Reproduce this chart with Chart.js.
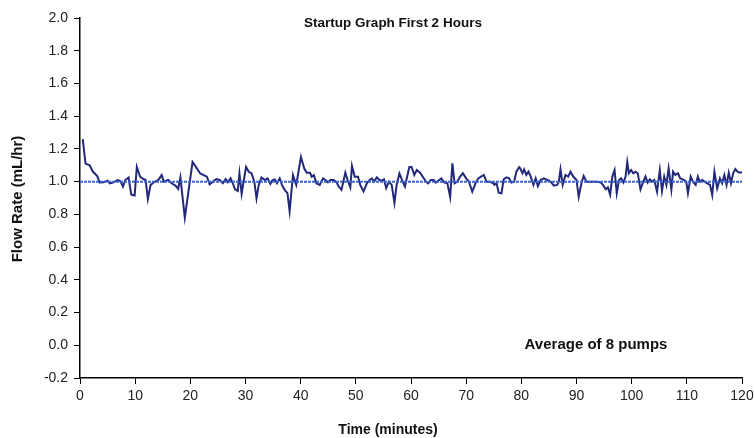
<!DOCTYPE html>
<html>
<head>
<meta charset="utf-8">
<script src="https://cdn.jsdelivr.net/npm/chart.js@4.4.0/dist/chart.umd.min.js"></script>
<style>
  body { margin: 0; background: #fff; }
  #wrap { width: 754px; height: 438px; position: relative; }
</style>
</head>
<body>
<div id="wrap"><canvas id="flowChart"></canvas></div>
<script>
// time in minutes, flow in mL/hr (average of 8 pumps)
const minutes = [
  0.5, 1.0, 1.75, 2.35, 3.1, 3.55, 4.3, 5.0, 5.4, 6.1, 6.8, 7.3, 7.8, 8.2, 8.8, 9.3, 9.9,
  10.3, 10.9, 11.5, 11.9, 12.3, 12.8, 13.4, 14.2, 14.8, 15.2, 16.0, 16.6, 17.3, 17.8, 18.2, 19.0,
  20.4, 21.0, 21.8, 22.6, 23.0, 23.5, 24.1, 24.7, 25.3, 25.9, 26.4, 26.8, 27.3, 27.7, 28.1, 28.6,
  28.9, 29.3, 29.7, 30.1, 30.6, 31.1, 31.6, 32.0, 32.4, 32.9, 33.5, 34.0, 34.5, 34.9, 35.3, 35.7,
  36.2, 36.6, 37.1, 37.6, 38.0, 38.6, 39.2, 40.05, 40.65, 41.1, 41.7, 42.0, 42.4, 42.85, 43.45,
  44.05, 44.5, 44.95, 45.4, 46.0, 46.5, 46.9, 47.4, 48.1, 48.5, 49.0, 49.3, 49.8, 50.4, 50.8,
  51.4, 52.0, 52.5, 52.9, 53.3, 53.8, 54.3, 54.7, 55.1, 55.5, 56.0, 56.5, 57.0, 57.4, 57.9,
  58.5, 58.9, 59.7, 60.1, 60.6, 61.05, 61.65, 62.1, 62.7, 63.1, 63.6, 64.1, 64.5, 65.1, 65.5,
  66.0, 66.6, 67.1, 67.5, 67.9, 68.4, 68.9, 69.4, 70.0, 70.5, 71.1, 71.7, 72.2, 72.7, 73.2,
  73.7, 74.3, 74.9, 75.1, 75.5, 75.9, 76.4, 76.8, 77.3, 77.8, 78.2, 78.7, 79.1, 79.6, 79.8,
  80.2, 80.5, 80.9, 81.3, 81.7, 82.2, 82.6, 83.0, 83.5, 84.1, 84.7, 85.3, 85.9, 86.5, 86.8,
  87.1, 87.5, 88.0, 88.5, 88.9, 89.4, 90.0, 90.4, 90.9, 91.3, 91.8, 92.4, 93.0, 93.8, 94.4,
  94.8, 95.3, 95.7, 96.1, 96.5, 96.9, 97.3, 97.7, 98.1, 98.5, 98.9, 99.2, 99.5, 99.9, 100.3,
  100.7, 101.1, 101.6, 102.1, 102.5, 102.9, 103.3, 103.7, 104.1, 104.6, 105.1, 105.5, 105.9,
  106.3, 106.7, 107.2, 107.5, 107.9, 108.4, 108.8, 109.3, 109.9, 110.2, 110.7, 111.1, 111.6,
  112.0, 112.3, 112.8, 113.2, 113.7, 114.2, 114.6, 115.0, 115.5, 116.0, 116.4, 116.8, 117.2,
  117.6, 118.0, 118.4, 118.8, 119.2, 119.6, 120.0
];
const flowRate = [
  1.26, 1.11, 1.10, 1.06, 1.035, 0.995, 0.996, 1.006, 0.99, 0.996, 1.01, 1.004, 0.97, 1.01, 1.025, 0.92, 0.915,
  1.09, 1.03, 1.016, 1.01, 0.894, 0.98, 0.996, 1.01, 1.04, 1.0, 1.01, 0.99, 0.976, 0.955, 1.025, 0.78,
  1.12, 1.09, 1.05, 1.037, 1.03, 0.984, 1.0, 1.016, 1.01, 0.99, 1.016, 0.996, 1.02, 0.99, 0.953, 0.943,
  1.05, 0.925, 1.01, 1.09, 1.06, 1.05, 1.0, 0.898, 0.98, 1.026, 1.01, 1.02, 0.986, 1.01, 1.014, 0.99,
  1.02, 0.98, 0.95, 0.93, 0.82, 1.04, 0.98, 1.15, 1.08, 1.055, 1.055, 1.03, 1.04, 0.99, 0.98,
  1.02, 1.01, 0.996, 1.01, 1.01, 0.996, 0.97, 0.95, 1.055, 1.01, 0.965, 1.096, 1.03, 1.03, 0.98,
  0.94, 0.99, 1.01, 1.02, 1.0, 1.026, 1.01, 1.006, 1.014, 0.96, 1.0, 0.98, 0.87, 0.98, 1.05,
  1.0, 0.97, 1.09, 1.09, 1.041, 1.071, 1.055, 1.031, 1.0, 0.99, 1.01, 1.01, 0.994, 1.01, 1.02,
  0.996, 0.99, 0.905, 1.112, 0.99, 1.0, 1.031, 1.051, 1.02, 1.0, 0.939, 0.99, 1.02, 1.031, 1.041,
  1.0, 1.0, 0.99, 0.98, 0.99, 0.933, 0.929, 1.014, 1.026, 1.02, 0.994, 1.0, 1.061, 1.088, 1.081,
  1.051, 1.075, 1.041, 1.061, 1.031, 0.98, 1.02, 0.973, 1.01, 1.02, 1.01, 1.0, 0.976, 0.98, 1.0,
  1.075, 0.98, 1.041, 1.031, 1.061, 1.031, 1.01, 0.908, 0.99, 1.035, 1.0, 1.0, 1.0, 1.0, 0.994,
  0.98, 0.953, 0.965, 0.92, 1.031, 1.071, 0.929, 1.01, 1.02, 0.994, 1.031, 1.12, 1.051, 1.071, 1.051,
  1.061, 1.051, 0.953, 1.0, 1.031, 0.994, 1.014, 1.0, 1.01, 0.939, 1.071, 0.943, 1.031,
  0.98, 1.081, 0.951, 1.061, 1.041, 1.051, 1.02, 1.014, 1.0, 0.929, 1.031, 1.0, 0.98,
  1.031, 1.0, 1.01, 1.0, 0.99, 0.98, 0.918, 1.061, 0.959, 1.02, 0.99, 1.041, 0.98,
  1.055, 0.99, 1.051, 1.077, 1.061, 1.055, 1.057
];
// target flow reference line
const targetMinutes = [0, 120];
const targetFlow = [1.0, 1.0];

const chartTitle = "Startup Graph First 2 Hours";
const noteText = "Average of 8 pumps";
const xTitle = "Time (minutes)";
const yTitle = "Flow Rate (mL/hr)";

const FONT = "'Liberation Sans', Arial, sans-serif";
Chart.defaults.font.family = FONT;
Chart.defaults.color = "#222";

// titles and the note, drawn where the original had them
const notes = {
  id: "notes",
  afterDraw(chart) {
    const ctx = chart.ctx;
    ctx.save();
    ctx.fillStyle = "#111";
    ctx.textAlign = "center";
    ctx.textBaseline = "middle";
    ctx.font = "bold 13.5px " + FONT;
    ctx.fillText(chartTitle, 393, 23);
    ctx.font = "bold 15px " + FONT;
    ctx.fillText(noteText, 596, 345);
    ctx.font = "bold 14px " + FONT;
    ctx.fillText(xTitle, 388, 430);
    ctx.translate(18, 199);
    ctx.rotate(-Math.PI / 2);
    ctx.font = "bold 15px " + FONT;
    ctx.fillText(yTitle, 0, 0);
    ctx.restore();
  },
};

const lineData = minutes.map((m, i) => ({ x: m, y: flowRate[i] }));
const refData = targetMinutes.map((m, i) => ({ x: m, y: targetFlow[i] }));

new Chart(document.getElementById("flowChart"), {
  type: "line",
  data: {
    datasets: [
      {
        label: "Target",
        data: refData,
        borderColor: "#3f66cc",
        borderWidth: 2,
        borderDash: [3, 1],
        pointRadius: 0,
      },
      {
        label: "Flow",
        data: lineData,
        borderColor: "#22287a",
        borderWidth: 2,
        pointRadius: 0,
        tension: 0,
      },
    ],
  },
  options: {
    responsive: true,
    maintainAspectRatio: false,
    animation: false,
    layout: { padding: { left: 0, right: 12, top: 18, bottom: 0 } },
    plugins: { legend: { display: false }, tooltip: { enabled: false } },
    scales: {
      x: {
        type: "linear",
        min: 0,
        max: 120,
        ticks: { stepSize: 10, font: { size: 14 }, padding: 4, maxRotation: 0 },
        grid: { drawOnChartArea: false, tickLength: 6, color: "#000" },
        border: { color: "#000", width: 1.5 },
        afterFit(scale) {
          scale.height = 60;
          scale.paddingLeft = 0;
          scale.paddingRight = 0;
        },
      },
      y: {
        min: -0.2,
        max: 2.0,
        ticks: { stepSize: 0.2, font: { size: 14 }, padding: 6, callback: (v) => v.toFixed(1) },
        grid: { drawOnChartArea: false, tickLength: 6, color: "#000" },
        border: { color: "#000", width: 1.5 },
        afterFit(scale) {
          scale.width = 80;
        },
      },
    },
  },
  plugins: [notes],
});
</script>
</body>
</html>
